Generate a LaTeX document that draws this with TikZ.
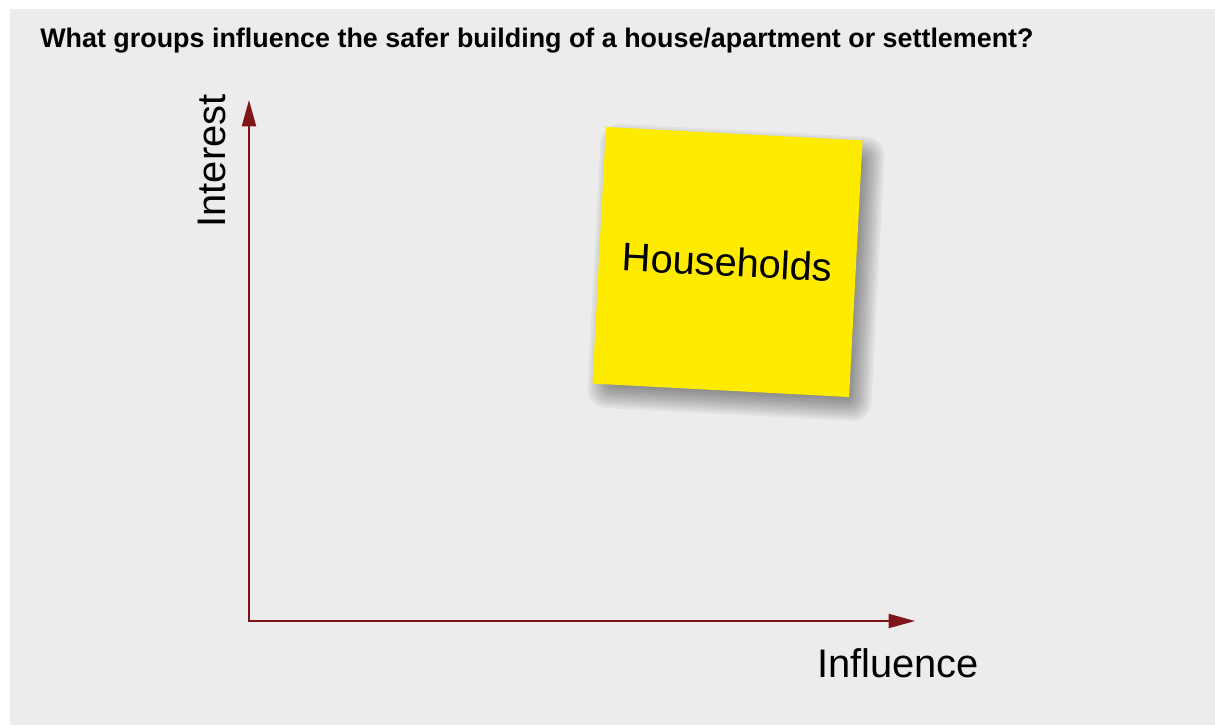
\documentclass[tikz,border=0pt]{standalone}
\usepackage{fontspec}
\setmainfont{Liberation Sans}
\usepackage{xcolor}
\usetikzlibrary{arrows.meta,positioning}

\definecolor{panelgray}{HTML}{ECECEC}
\definecolor{axisred}{HTML}{801518}
\definecolor{noteyellow}{HTML}{FFEB00}

\tikzset{
  axis/.style={line width=1.1pt, axisred, line join=miter,
    {Triangle[length=15pt,width=8pt]}-{Triangle[length=15pt,width=8pt]}},
  axislabel/.style={inner sep=0pt, font=\fontsize{22.7pt}{26pt}\selectfont},
  sticky/.style={fill=noteyellow, minimum size=5.14cm, inner sep=0pt,
    font=\fontsize{22.7pt}{26pt}\selectfont},
  shadowstep/.style={fill=black, fill opacity=0.042}
}

\begin{document}
\begin{tikzpicture}[x=0.02cm, y=-0.02cm]
  \useasboundingbox (0,0) rectangle (1215,725);
  \fill[panelgray] (10,9) rectangle (1215,725);

  % Question
  \node[anchor=base west, inner sep=0pt, font=\fontsize{15.3pt}{18pt}\selectfont\bfseries]
    (question) at (40,47) {What groups influence the safer building of a house/apartment or settlement?};

  % Axes
  \coordinate (origin) at (249,621);
  \coordinate (ytip) at (249,100);
  \coordinate (xtip) at (915,621);
  \draw[axis] (ytip) -- (origin) -- (xtip);
  \node[axislabel, rotate=90] (interest) at (212,161) {Interest};
  \node[axislabel] (influence) at (898,663) {Influence};

  % Sticky note with a soft shadow under it
  \coordinate (notecenter) at (727.5,262);
  \begin{scope}[shift={(notecenter)}, rotate=-3]
    \foreach \r in {0,...,11}
      \fill[shadowstep, rounded corners=2pt+\r*0.8pt]
        ({0.18cm-2.35cm-\r*0.045cm}, {-0.20cm-2.35cm-\r*0.045cm})
        rectangle ({0.18cm+2.35cm+\r*0.045cm}, {-0.20cm+2.35cm+\r*0.045cm});
  \end{scope}
  \node[sticky, rotate=-3] (households) at (notecenter) {Households};
\end{tikzpicture}
\end{document}
